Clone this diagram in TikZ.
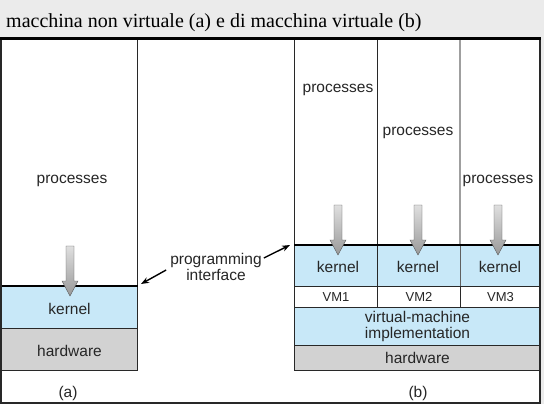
\documentclass[tikz,border=0pt]{standalone}
\usepackage{fontspec}
\setmainfont{Liberation Serif}
\newfontfamily\lsans{Liberation Sans}
\usetikzlibrary{arrows.meta}
\definecolor{bgray}{RGB}{235,235,235}
\definecolor{kblue}{RGB}{200,232,248}
\definecolor{hgray}{RGB}{210,210,210}
\definecolor{lin}{RGB}{40,40,40}
\tikzset{
  lbl/.style={font=\lsans\fontsize{15.5}{16.5}\selectfont, inner sep=0, align=center, text=black!85},
  vml/.style={font=\lsans\fontsize{13}{15}\selectfont, inner sep=0, text=black!85},
  cell/.style={draw=lin, line width=1pt, inner sep=0, anchor=north west},
  downarr/.style={draw=gray!70!black, line width=0.4pt, top color=gray!25, bottom color=gray!80},
  piarrow/.style={-{Stealth[length=8pt,width=6pt]}, line width=1.4pt, black}
}
\begin{document}
\begin{tikzpicture}[x=1pt,y=-1pt]
\fill[bgray] (0,0) rectangle (544,404);
\useasboundingbox (0,0) rectangle (544,404);
\fill[white] (1,38.5) rectangle (540,403);
\node[font=\fontsize{20}{24}\selectfont, anchor=base west, inner sep=0] (title) at (6,28)
  {macchina non virtuale (a) e di macchina virtuale (b)};

% (a) non virtual machine
\node[cell, fill=white, minimum width=136, minimum height=248] (procA) at (1,38) {};
\node[cell, fill=kblue, minimum width=136, minimum height=42] (kernA) at (1,286) {};
\node[cell, fill=hgray, minimum width=136, minimum height=42] (hwA) at (1,328) {};
\draw[black, line width=1.6pt] (kernA.north west) -- (kernA.north east);
\node[lbl] (pA) at (72,181) {processes};
\node[lbl] (kA) at ([yshift=-1pt]kernA.center) {kernel};
\node[lbl] (hA) at ([yshift=-1pt]hwA.center) {hardware};

% (b) virtual machine
\node[cell, fill=white, minimum width=83, minimum height=206] (procB1) at (294,39) {};
\node[cell, fill=white, minimum width=83, minimum height=206] (procB2) at (377,39) {};
\node[cell, fill=white, minimum width=80, minimum height=206] (procB3) at (460,39) {};
\draw[gray!75, line width=1.2pt] (procB3.north west) -- (procB3.south west);
\node[cell, fill=kblue, minimum width=83, minimum height=41] (kernB1) at (294,245) {};
\node[cell, fill=kblue, minimum width=83, minimum height=41] (kernB2) at (377,245) {};
\node[cell, fill=kblue, minimum width=80, minimum height=41] (kernB3) at (460,245) {};
\draw[gray!75!black, line width=1pt] (kernB3.north west) -- (kernB3.south west);
\node[cell, fill=white, minimum width=83, minimum height=21] (vm1) at (294,286) {};
\node[cell, fill=white, minimum width=83, minimum height=21] (vm2) at (377,286) {};
\node[cell, fill=white, minimum width=80, minimum height=21] (vm3) at (460,286) {};
\node[cell, fill=kblue, minimum width=246, minimum height=38] (vmi) at (294,307) {};
\node[cell, fill=hgray, minimum width=246, minimum height=25] (hwB) at (294,345) {};
\draw[black, line width=2.6pt] (kernB1.north west) -- (kernB3.north east);

\node[lbl] (pB1) at (338,90) {processes};
\node[lbl] (pB2) at (418,133) {processes};
\node[lbl] (pB3) at (498,181) {processes};
\node[lbl] (kB1) at (338,267) {kernel};
\node[lbl] (kB2) at (418,267) {kernel};
\node[lbl] (kB3) at (500,267) {kernel};
\node[vml] (lvm1) at (vm1.center) {VM1};
\node[vml] (lvm2) at (vm2.center) {VM2};
\node[vml] (lvm3) at (vm3.center) {VM3};
\node[lbl] (lvmi) at (vmi.center) {virtual-machine\\implementation};
\node[lbl] (hB) at (hwB.center) {hardware};

% outer frame
\draw[lin, line width=1.4pt] (1,38.5) rectangle (540,403);
\draw[black, line width=2.4pt] (0,38.5) -- (541,38.5);

% down arrows
\foreach \ax/\ay in {70/246, 338/205, 418/205, 498/205}{
  \path[downarr] ({\ax-4},\ay) -- ({\ax+4},\ay) -- ({\ax+4},{\ay+35}) -- ({\ax+8},{\ay+35})
    -- (\ax,{\ay+50}) -- ({\ax-8},{\ay+35}) -- ({\ax-4},{\ay+35}) -- cycle;
}

% programming interface
\node[lbl] (pi) at (216,267) {programming\\interface};
\draw[piarrow] ([xshift=2pt,yshift=9pt]pi.east) -- ([xshift=-4pt,yshift=0pt]kernB1.north west);
\draw[piarrow] ([xshift=-4pt,yshift=-3pt]pi.west) -- ([xshift=3pt,yshift=2pt]kernA.north east);

% captions
\node[lbl] (la) at (68,393) {(a)};
\node[lbl] (lb) at (418,393) {(b)};
\end{tikzpicture}
\end{document}
